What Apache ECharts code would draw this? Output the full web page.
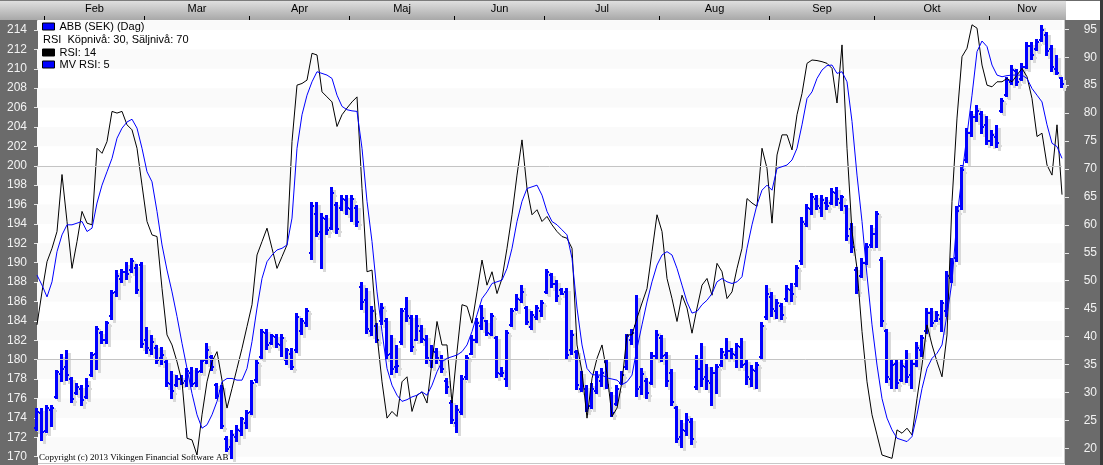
<!DOCTYPE html>
<html><head><meta charset="utf-8">
<script src="https://cdn.jsdelivr.net/npm/echarts@6/dist/echarts.min.js"></script>
<style>html,body{margin:0;padding:0;background:#6b6b6b;overflow:hidden}#c{width:1103px;height:465px}</style>
</head><body><div id="c"></div>
<script>
// ---- data ----
const firstDay = '2019-01-30', lastDay = '2019-11-21';
const holidays = ['2019-04-19','2019-04-22','2019-05-01','2019-05-30','2019-06-06','2019-06-21'];
const monthNames = ['Jan','Feb','Mar','Apr','Maj','Jun','Jul','Aug','Sep','Okt','Nov','Dec'];
const priceTicks = [170,172,174,176,178,180,182,184,186,188,190,192,194,196,198,200,202,204,206,208,210,212,214];
const rsiTicks = [20,25,30,35,40,45,50,55,60,65,70,75,80,85,90,95];
const priceLevels = [180, 200];
const shadeBands = [[170,172],[174,176],[178,180],[182,184],[186,188],[190,192],[194,196],[198,200],[202,204],[206,208],[210,212],[214,215]];

const open = [
173.0,174.5,172.6,174.8,176.2,178.5,179.2,178.0,176.6,177.0,
176.2,178.4,180.6,182.8,182.0,184.5,187.0,188.3,189.0,189.2,
189.5,189.8,182.0,181.0,181.2,180.2,179.8,177.5,177.4,178.0,
177.8,178.6,177.6,178.8,180.0,180.3,177.4,176.8,171.8,171.0,
172.0,172.6,173.5,174.6,177.9,180.3,182.8,181.7,182.3,181.5,
180.0,180.6,181.0,183.0,183.8,191.0,195.0,193.2,194.5,193.6,
196.0,195.6,196.5,195.5,195.6,187.5,186.2,183.0,183.5,184.0,
184.0,180.6,179.2,181.8,185.2,184.3,182.0,183.0,182.0,180.0,
180.8,180.0,177.8,175.5,173.5,174.6,178.2,180.6,182.0,183.5,
184.0,182.7,182.2,178.5,178.0,183.6,185.2,186.2,185.3,183.4,
184.4,185.0,187.0,188.7,187.8,187.2,187.0,181.0,180.8,177.0,
177.0,175.2,176.8,177.8,179.8,176.4,175.4,177.6,179.2,182.0,
183.5,177.2,177.8,177.6,180.4,182.2,180.5,178.6,175.0,172.0,
172.6,173.6,177.2,179.0,178.2,177.6,178.6,179.5,180.5,180.9,
180.5,181.3,179.6,178.0,178.8,180.3,184.4,186.5,185.0,185.5,
186.3,187.2,187.8,190.2,194.0,195.5,196.6,195.6,196.2,196.2,
197.2,196.2,195.8,193.5,189.2,188.6,190.0,191.8,193.0,190.3,
183.0,178.0,179.6,177.9,179.2,178.4,179.6,181.0,183.0,184.8,
184.0,184.2,185.0,188.4,190.5,195.8,200.6,203.4,205.0,205.3,
204.2,202.6,203.0,205.6,207.3,208.6,209.8,208.9,210.2,212.3,
212.0,213.0,213.5,212.0,210.0,209.0];
const high = [
175.0,175.0,175.3,175.3,178.9,180.6,181.0,178.2,177.6,177.4,
178.1,180.8,183.5,183.0,184.0,187.2,189.2,189.4,190.1,190.5,
189.9,190.1,183.4,182.5,181.5,181.3,180.0,178.8,178.4,178.4,
179.1,179.3,179.1,180.1,181.7,180.5,177.6,177.4,172.1,172.8,
173.3,174.1,174.8,177.9,180.0,183.2,183.2,182.7,182.7,182.7,
181.2,181.2,184.8,184.3,185.3,196.3,196.3,195.1,194.9,197.8,
196.3,197.0,197.0,197.0,196.0,188.0,187.4,185.5,183.8,185.8,
184.3,182.5,181.5,185.3,186.5,184.6,184.6,183.6,182.5,181.5,
181.2,180.5,178.1,175.8,175.3,178.4,180.5,182.5,184.3,185.6,
184.1,184.8,182.4,179.3,183.1,185.3,186.8,187.7,185.5,185.0,
185.6,186.2,189.4,188.9,188.2,187.4,187.4,183.1,181.0,178.8,
177.4,177.6,178.8,179.1,180.1,176.7,177.4,178.8,182.7,183.2,
186.7,179.1,178.1,180.8,183.1,182.5,180.8,179.0,175.2,173.8,
174.5,174.0,180.5,181.7,179.6,179.3,179.6,181.2,182.2,181.2,
181.7,182.2,180.1,179.5,179.8,183.9,187.7,187.0,186.3,185.8,
187.7,187.9,189.8,194.7,196.1,197.2,197.0,197.0,196.8,197.7,
197.8,197.0,196.0,194.1,189.6,190.5,192.0,193.9,195.3,190.6,
183.2,180.1,180.1,180.0,181.0,180.1,181.8,182.5,185.3,185.3,
185.0,186.2,189.1,190.5,195.8,200.1,203.9,205.6,206.3,205.6,
205.1,203.7,204.2,207.0,209.2,210.4,210.0,210.6,212.8,212.8,
213.1,214.5,213.8,212.5,211.4,209.2];
const low = [
172.7,171.6,172.4,173.1,176.0,177.7,177.8,175.5,176.4,175.2,
176.0,178.2,178.9,181.6,181.6,184.1,186.5,187.9,188.2,188.9,
186.8,181.2,180.6,180.5,179.6,179.5,177.2,176.0,177.2,177.4,
177.2,177.2,177.2,178.6,179.6,178.8,176.0,172.9,170.5,169.8,
171.5,172.1,172.9,174.3,177.6,180.1,181.0,181.5,181.2,180.3,
179.5,178.9,180.7,182.5,183.4,190.3,192.7,189.4,192.9,193.4,
193.0,195.3,194.9,194.2,193.7,185.1,182.7,182.4,181.7,183.6,
180.1,178.4,178.6,181.5,183.9,180.8,181.9,181.7,179.6,179.1,
179.6,178.6,176.5,173.4,172.4,174.3,177.9,180.5,181.7,183.1,
182.4,182.4,178.1,178.2,177.2,183.4,185.0,185.8,183.6,183.1,
184.1,184.4,186.8,187.4,186.0,186.7,180.1,180.5,176.9,176.7,
174.6,174.9,176.5,177.2,177.0,174.1,175.2,177.4,178.9,181.5,
176.2,176.4,176.0,177.4,180.0,179.8,177.2,175.2,171.4,170.9,
172.1,171.2,176.9,177.2,176.9,175.2,176.5,179.3,180.1,180.1,
179.1,179.1,177.4,177.2,177.0,180.1,184.1,184.4,184.2,184.1,
186.0,186.0,187.5,189.8,193.7,194.9,195.4,194.7,195.4,196.0,
195.8,195.3,192.2,191.0,186.8,188.4,189.8,191.5,191.5,183.4,
177.6,177.0,177.0,177.7,177.6,177.0,179.3,180.3,182.7,183.4,
183.9,182.9,184.4,187.9,190.1,195.4,200.3,203.0,204.5,203.3,
202.1,202.0,201.8,205.4,207.1,208.3,208.2,208.7,210.0,210.9,
211.8,212.8,211.3,209.7,209.4,208.0];
const close = [
174.6,172.5,175.0,175.0,178.7,179.0,178.4,176.0,177.2,175.8,
177.3,180.5,183.2,182.0,183.8,186.9,188.6,189.0,188.8,190.2,
187.2,181.6,181.2,181.8,180.0,180.5,177.6,176.8,178.0,177.6,
178.8,177.5,178.7,179.9,181.0,179.2,176.3,173.2,170.8,172.2,
172.8,173.9,174.5,177.6,179.7,182.9,181.5,182.4,181.6,182.2,
181.0,179.3,184.4,184.0,185.0,195.8,193.0,194.6,193.4,197.2,
193.5,196.6,195.6,196.6,194.2,186.0,183.2,185.0,182.0,185.3,
180.5,179.0,179.4,185.0,184.5,181.3,183.5,182.1,180.2,180.9,
180.2,179.0,177.2,173.8,174.8,178.0,180.2,182.0,183.8,184.3,
182.8,184.5,178.6,178.6,182.8,185.0,186.3,187.0,183.9,184.6,
185.3,185.8,189.0,187.8,186.6,186.8,180.5,182.5,177.4,177.3,
175.0,177.0,178.2,178.6,177.4,174.5,177.0,178.4,182.4,182.8,
177.0,178.5,176.6,180.4,182.6,180.4,177.8,175.6,171.8,172.8,
173.8,171.8,179.0,178.0,177.8,178.6,179.3,180.8,180.9,180.6,
181.4,179.5,178.2,178.9,179.5,183.5,186.8,185.2,185.8,184.6,
187.3,186.8,189.5,194.2,195.6,196.8,195.8,196.5,195.8,197.3,
196.6,196.8,192.8,191.6,187.2,190.0,191.6,193.0,195.0,184.0,
178.2,179.5,177.6,179.4,178.2,179.6,181.2,182.2,184.8,183.8,
184.6,185.8,188.6,190.0,195.3,199.6,203.4,205.0,205.6,204.0,
202.6,203.2,202.3,206.7,208.8,209.9,208.6,210.2,212.4,211.4,
212.8,214.0,211.8,210.2,209.6,208.4];
const rsi = [
42.1,48.0,53.4,55.8,58.8,69.0,60.6,52.2,57.0,62.4,
60.3,60.0,73.7,72.8,74.9,80.3,80.0,80.3,77.9,77.0,
73.7,67.1,60.6,58.2,57.9,48.6,40.3,38.5,35.5,31.9,
21.8,21.5,18.8,26.0,31.9,35.5,37.3,32.2,27.2,30.7,
34.3,37.9,41.8,45.7,54.6,57.0,59.4,55.8,52.2,54.3,
56.4,74.9,85.0,85.3,85.9,90.7,90.4,83.8,82.9,82.0,
77.6,79.7,80.9,82.0,82.9,66.5,51.6,51.9,40.3,31.9,
25.4,26.6,25.7,31.9,32.8,26.6,29.5,30.1,28.1,35.5,
42.7,38.5,38.5,28.1,37.3,45.7,45.4,42.4,48.0,53.7,
49.2,51.6,47.7,50.4,55.8,61.8,68.9,75.2,66.5,61.8,
62.7,60.6,61.5,60.0,58.8,57.9,57.6,55.8,38.5,33.7,
25.4,32.5,36.1,38.5,33.4,25.7,27.2,31.9,40.3,40.3,
43.3,46.0,48.6,55.2,61.8,58.8,50.4,46.8,42.7,47.4,
45.1,40.6,45.1,49.2,50.4,47.4,53.1,51.6,46.8,48.0,
52.2,55.8,64.7,63.9,63.3,73.7,70.1,60.3,72.5,76.1,
76.1,73.4,79.7,83.5,88.9,89.5,89.4,89.2,88.9,88.0,
81.8,92.2,73.7,58.8,52.2,40.9,31.9,26.0,22.4,18.8,
18.5,18.2,23.3,22.7,23.6,22.4,28.9,34.9,42.1,38.5,
35.5,32.8,40.3,64.2,79.1,90.1,91.6,95.8,95.2,88.6,
85.0,84.7,85.6,85.6,86.2,85.6,86.8,88.0,86.5,82.6,
75.8,76.4,70.7,68.9,77.9,65.4];
const mvRsi = [
51.0,49.2,47.1,49.8,55.2,58.2,60.0,60.0,60.3,60.6,
58.8,59.4,63.9,67.1,69.5,71.9,75.5,77.3,78.4,78.9,
77.3,73.7,69.5,67.7,62.4,56.4,51.9,48.0,43.6,38.8,
34.3,29.8,26.0,23.6,24.2,26.0,28.4,31.9,32.5,32.5,
32.2,32.2,34.3,39.1,45.1,50.4,53.4,54.6,55.5,55.8,
56.4,61.2,73.7,79.7,83.2,85.6,87.4,87.1,86.8,86.2,
83.2,81.2,80.6,80.4,80.3,73.7,64.2,57.0,48.0,40.9,
34.3,31.3,29.5,28.4,28.7,29.2,29.5,30.1,29.5,31.3,
33.7,35.5,36.1,36.4,36.7,37.3,38.5,40.9,43.9,46.8,
48.0,49.5,49.8,50.1,52.2,55.8,60.6,64.2,66.5,66.8,
67.1,65.3,62.4,60.6,60.0,59.1,58.2,54.0,45.1,38.5,
34.3,33.2,33.1,33.1,32.6,32.4,32.2,31.4,31.9,33.1,
37.9,42.1,46.2,49.8,52.8,54.6,55.2,54.6,52.2,49.2,
46.2,44.2,44.5,45.7,46.5,47.7,49.8,50.4,49.8,49.5,
49.8,50.7,55.8,60.0,63.6,66.2,67.1,66.2,70.1,70.4,
70.7,71.6,73.7,77.9,82.6,83.8,86.2,87.7,88.5,88.6,
87.1,87.4,85.6,78.5,68.9,60.6,51.0,42.1,34.9,28.9,
25.4,23.3,21.8,21.5,21.2,22.1,26.0,30.7,34.3,36.1,
37.0,38.5,43.9,49.8,61.2,68.9,76.1,83.2,91.0,92.9,
91.9,88.6,86.8,86.5,86.7,86.8,86.8,86.8,86.2,84.4,
83.2,82.0,77.9,74.6,74.0,71.9];

// ---- trading-day categories ----
function buildTradingDays(from, to) {
  const out = [];
  const p = s => Date.UTC(+s.slice(0,4), +s.slice(5,7) - 1, +s.slice(8,10));
  for (let t = p(from); t <= p(to); t += 86400000) {
    const d = new Date(t), wd = d.getUTCDay(), s = d.toISOString().slice(0,10);
    if (wd !== 0 && wd !== 6 && holidays.indexOf(s) < 0) out.push(s);
  }
  return out;
}
const categories = buildTradingDays(firstDay, lastDay);

// month spans from categories
const months = [];
categories.forEach((d, i) => {
  const m = +d.slice(5,7);
  const last = months[months.length - 1];
  if (!last || last.m !== m) months.push({ m, start: i, end: i }); else last.end = i;
});
const monthTickPos = months.filter(s => s.start > 0).map(s => s.start - 0.5);
const labelMonths = months.filter(s => s.end - s.start + 1 >= 10);
const monthLabelPos = labelMonths.map(s => (s.start + s.end) / 2);

const ohlc = categories.map((d, i) => [i, open[i], high[i], low[i], close[i]]);

const FONT = 'Liberation Sans';
const chart = echarts.init(document.getElementById('c'), null, { renderer: 'canvas' });

function renderBar(params, api) {
  const i = api.value(0);
  const h = api.coord([i, api.value(2)]);
  const l = api.coord([i, api.value(3)]);
  const o = api.coord([i, api.value(1)]);
  const c = api.coord([i, api.value(4)]);
  const X = Math.round(h[0]);
  const top = Math.round(h[1]), bot = Math.round(l[1]);
  const oy = Math.round(o[1]), cy = Math.round(c[1]);
  const hgt = Math.max(1, bot - top);
  const shapes = (dx, dy, fill) => [
    { type: 'rect', shape: { x: X - 2 + dx, y: top + dy, width: 3, height: hgt }, style: { fill } },
    { type: 'rect', shape: { x: X - 3 + dx, y: oy - 1 + dy, width: 1, height: 2 }, style: { fill } },
    { type: 'rect', shape: { x: X + 1 + dx, y: cy - 1 + dy, width: 1, height: 2 }, style: { fill } }
  ];
  return { type: 'group', children: shapes(3, 3, '#d9d9d9').concat(shapes(0, 0, '#0000ff')) };
}

const legendText = { fontFamily: FONT, fontSize: 11, color: '#000' };

chart.setOption({
  animation: false,
  backgroundColor: '#6b6b6b',
  textStyle: { fontFamily: FONT },
  grid: { left: 37, right: 41, top: 20, bottom: 2, containLabel: false },
  legend: [
    { left: 42, top: 21, padding: 0, orient: 'vertical', itemWidth: 12, itemHeight: 7, itemGap: 0, selectedMode: false,
      textStyle: legendText,
      data: [{ name: 'ABB (SEK) (Dag)', icon: 'rect', itemStyle: { color: '#0000ff', borderColor: '#000', borderWidth: 1 } }] },
    { left: 38, top: 34, padding: 0, orient: 'vertical', itemWidth: 0, itemHeight: 7, itemGap: 0, selectedMode: false,
      textStyle: legendText,
      data: [{ name: 'RSI  Köpnivå: 30, Säljnivå: 70', icon: 'none' }] },
    { left: 42, top: 47, padding: 0, orient: 'vertical', itemWidth: 12, itemHeight: 7, itemGap: 1, selectedMode: false,
      textStyle: legendText,
      data: [
        { name: 'RSI: 14', icon: 'rect', itemStyle: { color: '#000', borderColor: '#000', borderWidth: 1 } },
        { name: 'MV RSI: 5', icon: 'rect', itemStyle: { color: '#0000ff', borderColor: '#000', borderWidth: 1 } }
      ] }
  ],
  xAxis: [
    { type: 'category', data: categories, boundaryGap: false, show: false },
    { type: 'value', min: 0, max: 205, position: 'top',
      axisLine: { show: false }, splitLine: { show: false },
      axisTick: { show: true, customValues: monthTickPos, length: 4, lineStyle: { color: '#000', width: 1 } },
      axisLabel: { customValues: monthLabelPos, margin: 6, color: '#000', fontSize: 11, fontFamily: FONT,
        formatter: v => { const s = labelMonths.find(q => (q.start + q.end) / 2 === v); return s ? monthNames[s.m - 1] : ''; } } }
  ],
  yAxis: [
    { type: 'value', min: 169.35, max: 215.03, position: 'left', offset: -1,
      axisLine: { show: false }, splitLine: { show: false },
      axisTick: { show: true, customValues: priceTicks, length: 4, lineStyle: { color: '#e6e6e6' } },
      axisLabel: { customValues: priceTicks, margin: 11, color: '#f2f2f2', fontSize: 12, fontFamily: FONT } },
    { type: 'value', min: 17.37, max: 96.66, position: 'right', offset: 3,
      axisLine: { show: false }, splitLine: { show: false },
      axisTick: { show: true, customValues: rsiTicks, length: 4, lineStyle: { color: '#e6e6e6' } },
      axisLabel: { customValues: rsiTicks, margin: 32, align: 'right', color: '#f2f2f2', fontSize: 12, fontFamily: FONT } }
  ],
  graphic: [
    { type: 'rect', z: -10, shape: { x: 38, y: 20, width: 1027, height: 445 }, style: { fill: '#ffffff' } },
    { type: 'rect', z: -9, shape: { x: 38, y: 463, width: 1027, height: 1 }, style: { fill: '#c8c8c8' } },
    { type: 'rect', z: -9, shape: { x: 1064, y: 20, width: 1, height: 444 }, style: { fill: '#c8c8c8' } },
    { type: 'rect', z: -10, shape: { x: 0, y: 0, width: 1066, height: 20 },
      style: { fill: new echarts.graphic.LinearGradient(0, 0, 0, 1, [{ offset: 0, color: '#e2e2e2' }, { offset: 1, color: '#a8a8a8' }]) } },
    { type: 'rect', z: -9, shape: { x: 0, y: 0, width: 1066, height: 1 }, style: { fill: '#7c7c7c' } },
    { type: 'rect', z: -9, shape: { x: 1066, y: 1, width: 34, height: 19 }, style: { fill: '#ffffff' } },
    { type: 'rect', z: -9, shape: { x: 1100, y: 0, width: 3, height: 465 }, style: { fill: '#3a3a3a' } },
    { type: 'text', z: 20, left: 39, top: 453,
      style: { text: 'Copyright (c) 2013 Vikingen Financial Software AB', font: '9px "Liberation Serif"', fill: '#000' } }
  ],
  series: [
    { name: 'RSI  Köpnivå: 30, Säljnivå: 70', type: 'line', xAxisIndex: 0, yAxisIndex: 0, data: [], z: 1, silent: true,
      markArea: { silent: true, itemStyle: { color: '#fafafa' }, data: shadeBands.map(b => [{ yAxis: b[0] }, { yAxis: b[1] }]) },
      markLine: { silent: true, symbol: ['none', 'none'], label: { show: false }, lineStyle: { color: '#c4c4c4', width: 1, type: 'solid' },
        data: priceLevels.map(v => ({ yAxis: v })) } },
    { name: 'ABB (SEK) (Dag)', type: 'custom', xAxisIndex: 0, yAxisIndex: 0, renderItem: renderBar, data: ohlc,
      encode: { x: 0, y: [1, 2, 3, 4] }, itemStyle: { color: '#0000ff' }, clip: false, z: 3, silent: true },
    { name: 'RSI: 14', type: 'line', xAxisIndex: 0, yAxisIndex: 1, data: rsi, symbol: 'none', z: 4, silent: true,
      lineStyle: { color: '#000', width: 1 }, itemStyle: { color: '#000' } },
    { name: 'MV RSI: 5', type: 'line', xAxisIndex: 0, yAxisIndex: 1, data: mvRsi, symbol: 'none', z: 5, silent: true,
      lineStyle: { color: '#0000ff', width: 1 }, itemStyle: { color: '#0000ff' } }
  ]
});
</script></body></html>
